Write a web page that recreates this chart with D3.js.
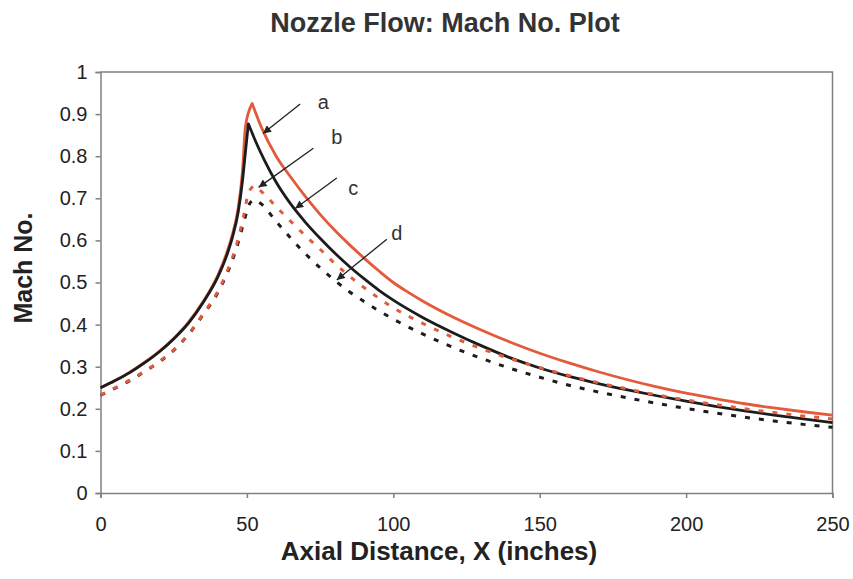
<!DOCTYPE html>
<html>
<head>
<meta charset="utf-8">
<script src="https://cdn.jsdelivr.net/npm/d3@7"></script>
<style>
  html, body { margin: 0; padding: 0; background: #fff; }
  svg { display: block; font-family: Arial, "Liberation Sans", Helvetica, sans-serif; }
</style>
</head>
<body>
<svg id="chart" width="853" height="579"></svg>
<script>
// ---------------- DATA ----------------
const chartTitle = "Nozzle Flow: Mach No. Plot";
const xTitle = "Axial Distance, X (inches)";
const yTitle = "Mach No.";
const xTicks = [0, 50, 100, 150, 200, 250];
const yTicks = [0, 0.1, 0.2, 0.3, 0.4, 0.5, 0.6, 0.7, 0.8, 0.9, 1];

// a : red solid
const xA = [0,5,10,15,20,25,30,35,40,43,45,47,48.5,49.5,51.8,55,60,65,70,75,80,85,90,95,100,105,110,120,130,140,150,160,170,180,190,200,210,220,230,240,250];
const mA = [0.250,0.267,0.287,0.310,0.336,0.367,0.405,0.454,0.516,0.568,0.613,0.676,0.765,0.870,0.925,0.868,0.800,0.750,0.704,0.662,0.624,0.590,0.558,0.528,0.500,0.477,0.456,0.419,0.387,0.358,0.332,0.309,0.288,0.269,0.252,0.237,0.224,0.212,0.202,0.193,0.185];

// c : black solid
const xC = [0,5,10,15,20,25,30,35,40,43,45,47,48.5,49.5,50.5,53,56,60,65,70,75,80,85,90,95,100,110,120,130,140,150,160,170,180,190,200,210,220,230,240,250];
const mC = [0.250,0.267,0.286,0.309,0.335,0.366,0.403,0.452,0.512,0.562,0.606,0.666,0.742,0.810,0.877,0.835,0.790,0.738,0.686,0.643,0.605,0.570,0.538,0.509,0.482,0.458,0.417,0.382,0.350,0.321,0.297,0.277,0.260,0.245,0.231,0.218,0.206,0.195,0.185,0.176,0.167];

// b : red dashed
const xB = [0,5,10,15,20,25,30,35,40,43,45,47,49,50.5,52.5,55,60,65,70,75,80,85,90,95,100,110,120,130,140,150,160,170,180,190,200,210,220,230,240,250];
const mB = [0.233,0.250,0.268,0.289,0.312,0.340,0.377,0.425,0.478,0.522,0.558,0.603,0.662,0.712,0.730,0.716,0.680,0.645,0.611,0.579,0.545,0.515,0.488,0.463,0.440,0.403,0.371,0.343,0.319,0.298,0.279,0.262,0.247,0.233,0.221,0.210,0.200,0.191,0.183,0.176];

// d : black dashed
const xD = [0,5,10,15,20,25,30,35,40,43,45,47,49,51,52.5,55,60,65,70,75,80,85,90,95,100,110,120,130,140,150,160,170,180,190,200,210,220,230,240,250];
const mD = [0.232,0.249,0.267,0.288,0.311,0.339,0.376,0.423,0.475,0.518,0.552,0.594,0.645,0.688,0.697,0.686,0.645,0.605,0.568,0.535,0.505,0.478,0.455,0.433,0.413,0.378,0.347,0.320,0.296,0.275,0.256,0.240,0.226,0.213,0.201,0.190,0.180,0.171,0.163,0.156];

// annotations (data coordinates)
const annLabels = ["a", "b", "c", "d"];
const annLabelX = [76.1, 80.7, 86.3, 101.2];
const annLabelM = [0.929, 0.846, 0.724, 0.617];
const annFromX = [68.2, 72.7, 80.7, 97.8];
const annFromM = [0.924, 0.819, 0.748, 0.603];
const annToX = [55.5, 54.0, 66.5, 80.7];
const annToM = [0.854, 0.726, 0.676, 0.506];

// ---------------- CHART ----------------
const svg = d3.select("#chart");
const W = 853, H = 579;
const margin = { left: 100.5, right: 20.5, top: 72, bottom: 86 };

const x = d3.scaleLinear().domain([0, 250]).range([margin.left, W - margin.right]);
const y = d3.scaleLinear().domain([0, 1]).range([H - margin.bottom, margin.top]);

const red = "#e35a3c";
const black = "#1c1c1c";
const axisColor = "#808080";

// plot border (top & right)
svg.append("path")
  .attr("d", `M${x(0)},${y(1)}H${x(250)}V${y(0)}`)
  .attr("fill", "none").attr("stroke", axisColor).attr("stroke-width", 1.5);

// axes
const yAxis = d3.axisLeft(y).tickValues(yTicks).tickFormat(d3.format("")).tickSize(5).tickPadding(8);
const xAxis = d3.axisBottom(x).tickValues(xTicks).tickFormat(d3.format("d")).tickSize(5).tickPadding(19);

const gy = svg.append("g").attr("transform", `translate(${x(0)},0)`).call(yAxis);
const gx = svg.append("g").attr("transform", `translate(0,${y(0)})`).call(xAxis);
[gx, gy].forEach(g => {
  g.select(".domain").attr("stroke", axisColor).attr("stroke-width", 1.5);
  g.selectAll(".tick line").attr("stroke", axisColor).attr("stroke-width", 1.5);
  g.selectAll(".tick text").attr("fill", "#222").style("font-size", "20px")
    .style("font-family", "Arial, 'Liberation Sans', sans-serif");
});

// line generator with sharp peak: split at max
const lineGen = d3.line().x(d => x(d[0])).y(d => y(d[1])).curve(d3.curveMonotoneX);
function peakPath(xs, ms) {
  const pts = xs.map((v, i) => [v, ms[i]]);
  const ip = d3.maxIndex(ms);
  const rise = lineGen(pts.slice(0, ip + 1));
  const fall = lineGen(pts.slice(ip));
  return rise + fall.replace(/^M/, "L");
}

const series = [
  { xs: xA, ms: mA, color: red, dash: null, width: 2.8 },
  { xs: xC, ms: mC, color: black, dash: null, width: 2.8 },
  { xs: xD, ms: mD, color: black, dash: "5,9", width: 3 },
  { xs: xB, ms: mB, color: red, dash: "5,9", width: 3 }
];

series.forEach(s => {
  svg.append("path")
    .attr("d", peakPath(s.xs, s.ms))
    .attr("fill", "none")
    .attr("stroke", s.color)
    .attr("stroke-width", s.width)
    .attr("stroke-linejoin", "round")
    .attr("stroke-dasharray", s.dash);
});

// arrow marker
svg.append("defs").append("marker")
  .attr("id", "arrow").attr("viewBox", "0 0 10 10")
  .attr("refX", 10).attr("refY", 5)
  .attr("markerWidth", 10).attr("markerHeight", 8)
  .attr("markerUnits", "userSpaceOnUse")
  .attr("orient", "auto")
  .append("path").attr("d", "M0,0L10,5L0,10z").attr("fill", "#222");

annLabels.forEach((lab, i) => {
  svg.append("line")
    .attr("x1", x(annFromX[i])).attr("y1", y(annFromM[i]))
    .attr("x2", x(annToX[i])).attr("y2", y(annToM[i]))
    .attr("stroke", "#222").attr("stroke-width", 1.3)
    .attr("marker-end", "url(#arrow)");
  svg.append("text")
    .attr("x", x(annLabelX[i])).attr("y", y(annLabelM[i]))
    .attr("text-anchor", "middle").attr("dominant-baseline", "central")
    .attr("fill", "#333").style("font-size", "20px")
    .text(lab);
});

// titles
svg.append("text")
  .attr("x", 445).attr("y", 32)
  .attr("text-anchor", "middle")
  .attr("fill", "#333").style("font-size", "27px").style("font-weight", "bold")
  .text(chartTitle);

svg.append("text")
  .attr("x", 439).attr("y", 560)
  .attr("text-anchor", "middle")
  .attr("fill", "#222").style("font-size", "26px").style("font-weight", "bold")
  .text(xTitle);

svg.append("text")
  .attr("transform", "translate(32,268) rotate(-90)")
  .attr("text-anchor", "middle")
  .attr("fill", "#222").style("font-size", "25px").style("font-weight", "bold")
  .text(yTitle);
</script>
</body>
</html>
